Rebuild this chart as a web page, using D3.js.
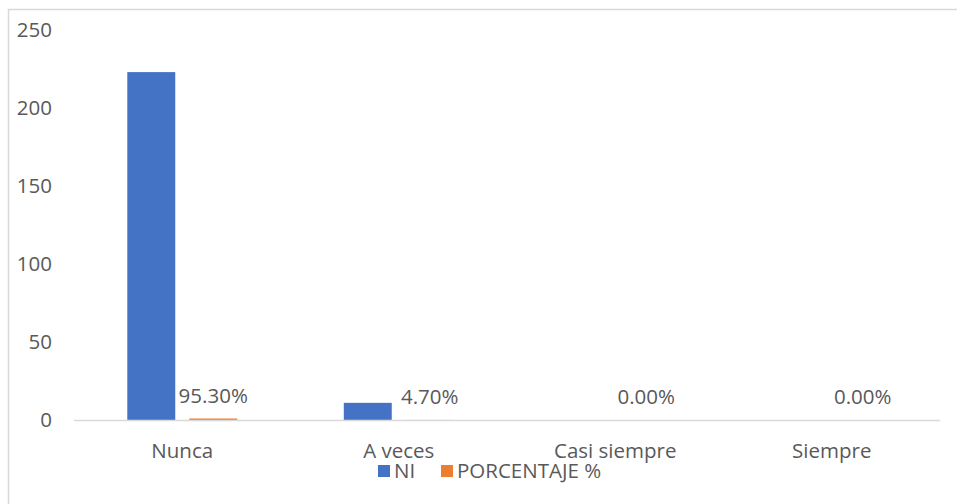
<!DOCTYPE html>
<html lang="es">
<head>
<meta charset="UTF-8">
<title>NI y porcentaje</title>
<script src="https://d3js.org/d3.v7.min.js"></script>
<style>
  body { margin: 0; background: #fff; }
  text { font-family: "Open Sans", sans-serif; fill: #595959; }
</style>
</head>
<body>
<div id="chart"></div>
<script>
// data
const categories = ["Nunca", "A veces", "Casi siempre", "Siempre"];
const niValues = [223, 11, 0, 0];
const pctValues = [0.953, 0.047, 0, 0];
const pctLabels = ["95.30%", "4.70%", "0.00%", "0.00%"];
const yTicks = [0, 50, 100, 150, 200, 250];
const seriesNames = ["NI", "PORCENTAJE %"];
const colors = ["#4472c4", "#ed7d31"];

const W = 957, H = 504;
const plot = { left: 74, right: 940, top: 30, bottom: 420 };
const fs = "20.5px";

const svg = d3.select("#chart").append("svg")
  .attr("width", W).attr("height", H);

// outer chart border
svg.append("rect")
  .attr("x", 8.5).attr("y", 9.5)
  .attr("width", W + 10).attr("height", H + 10)
  .attr("fill", "none").attr("stroke", "#d9d9d9").attr("stroke-width", 1.5);

const x = d3.scaleBand().domain(categories)
  .range([plot.left, plot.right]);

const xInner = d3.scaleBand().domain([0, 1])
  .range([0, x.bandwidth()]).paddingInner(0.226).paddingOuter(0.86);

const y = d3.scaleLinear().domain([0, 250])
  .range([plot.bottom, plot.top]);

// y tick labels
svg.append("g").selectAll("text")
  .data(yTicks).join("text")
  .attr("x", 52).attr("y", d => y(d) + 7)
  .attr("text-anchor", "end")
  .style("font-size", fs)
  .text(d => d);

// bars NI
svg.append("g").selectAll("rect")
  .data(niValues).join("rect")
  .attr("x", (d, i) => x(categories[i]) + xInner(0))
  .attr("width", xInner.bandwidth())
  .attr("y", d => y(d))
  .attr("height", d => y(0) - y(d))
  .attr("fill", colors[0]);

// bars porcentaje (tiny, same axis)
svg.append("g").selectAll("rect")
  .data(pctValues).join("rect")
  .attr("x", (d, i) => x(categories[i]) + xInner(1))
  .attr("width", xInner.bandwidth())
  .attr("y", d => y(d))
  .attr("height", d => y(0) - y(d))
  .attr("fill", colors[1]);

// data labels for porcentaje
svg.append("g").selectAll("text")
  .data(pctValues).join("text")
  .attr("x", (d, i) => x(categories[i]) + xInner(1) + xInner.bandwidth() / 2)
  .attr("y", d => y(d) - 16)
  .attr("text-anchor", "middle")
  .style("font-size", fs)
  .text((d, i) => pctLabels[i]);

// baseline
svg.append("line")
  .attr("x1", plot.left).attr("x2", plot.right)
  .attr("y1", y(0) + 0.5).attr("y2", y(0) + 0.5)
  .attr("stroke", "#d9d9d9").attr("stroke-width", 1.5);

// category labels
svg.append("g").selectAll("text")
  .data(categories).join("text")
  .attr("x", d => x(d) + x.bandwidth() / 2)
  .attr("y", 458)
  .attr("text-anchor", "middle")
  .style("font-size", fs)
  .text(d => d);

// legend
const legX = [378, 441];
const leg = svg.append("g").selectAll("g")
  .data(seriesNames).join("g")
  .attr("transform", (d, i) => `translate(${legX[i]},465)`);
leg.append("rect")
  .attr("width", 12).attr("height", 12)
  .attr("fill", (d, i) => colors[i]);
leg.append("text")
  .attr("x", 16).attr("y", 13)
  .style("font-size", fs)
  .text(d => d);
</script>
</body>
</html>
